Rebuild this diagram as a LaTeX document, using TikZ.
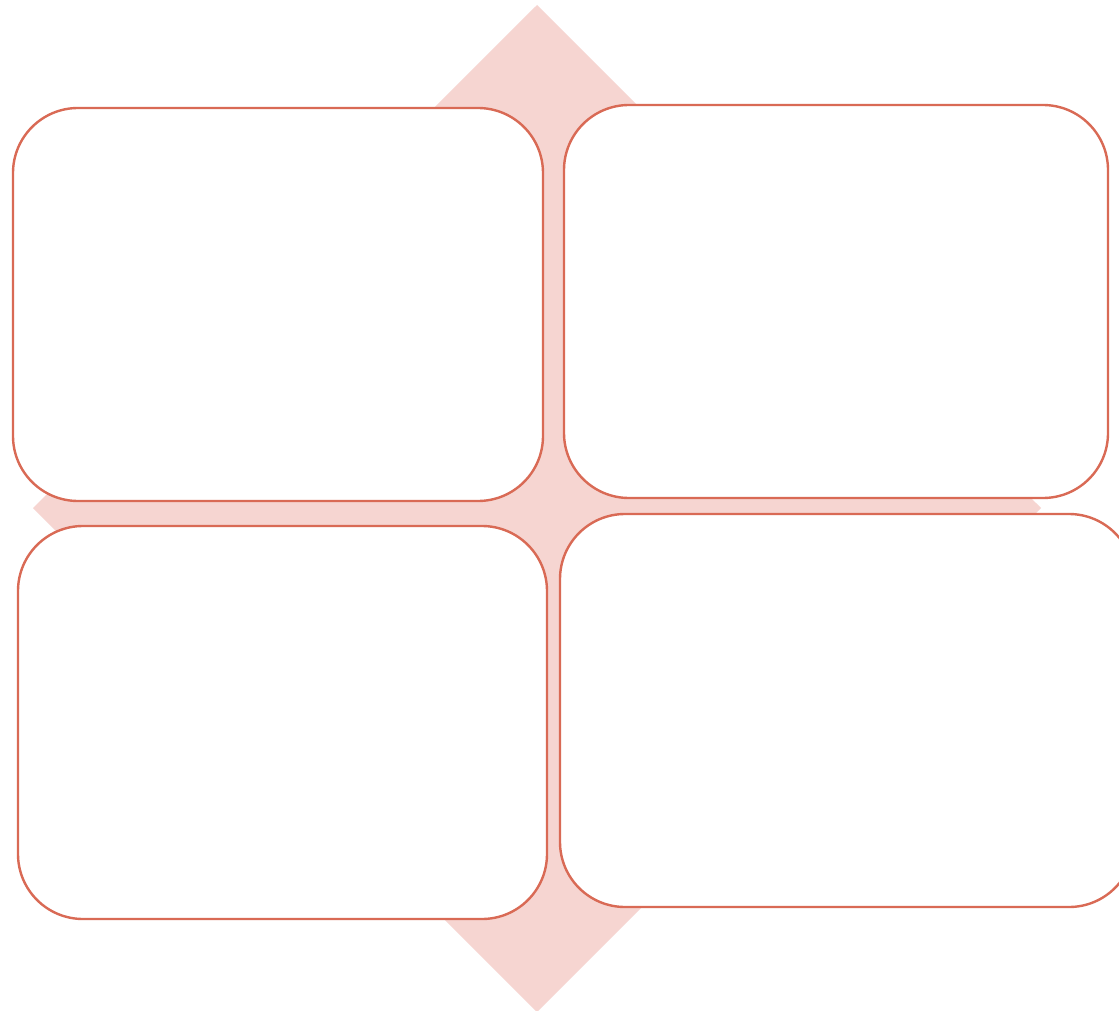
\documentclass[tikz,border=0pt]{standalone}
\usetikzlibrary{shapes.geometric}
\definecolor{edgeorange}{HTML}{D96A55}
\definecolor{diamondpink}{HTML}{F6D5D1}
\tikzset{
  card/.style={draw=edgeorange, line width=2.4pt, fill=white, rounded corners=65pt, rectangle, inner sep=0pt, outer sep=0pt},
  backdiamond/.style={fill=diamondpink}
}
\begin{document}
\begin{tikzpicture}[x=1pt,y=-1pt]
\useasboundingbox (0,0) rectangle (1119,1011);
\clip (0,0) rectangle (1119,1011);
\fill[white] (0,0) rectangle (1119,1011);
\coordinate (dtop) at (537,5);
\coordinate (dright) at (1041,508);
\coordinate (dbottom) at (537,1012);
\coordinate (dleft) at (33,508);
\fill[backdiamond] (dtop) -- (dright) -- (dbottom) -- (dleft) -- cycle;
\node[card, minimum width=530pt, minimum height=393pt] (tl) at (278,304.5) {};
\node[card, minimum width=544pt, minimum height=393pt] (tr) at (836,301.5) {};
\node[card, minimum width=529pt, minimum height=393pt] (bl) at (282.5,722.5) {};
\node[card, minimum width=574pt, minimum height=393pt] (br) at (847,710.5) {};
\end{tikzpicture}
\end{document}
